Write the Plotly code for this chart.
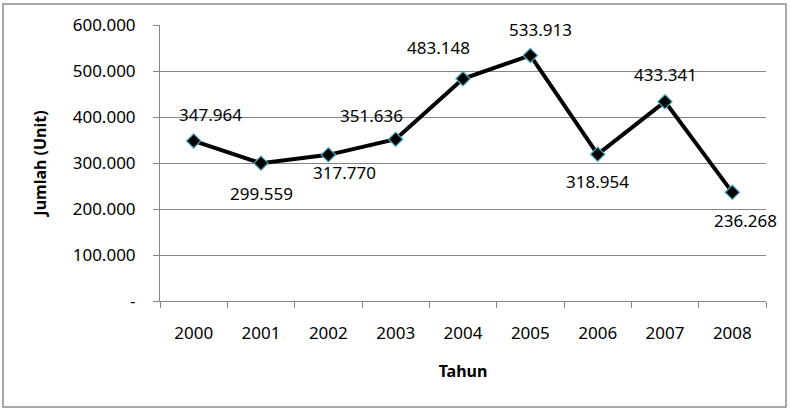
import plotly.graph_objects as go

years = ["2000", "2001", "2002", "2003", "2004", "2005", "2006", "2007", "2008"]
values = [347964, 299559, 317770, 351636, 483148, 533913, 318954, 433341, 236268]
labels = ["347.964", "299.559", "317.770", "351.636", "483.148", "533.913", "318.954", "433.341", "236.268"]
y_tickvals = [0, 100000, 200000, 300000, 400000, 500000, 600000]
y_ticktext = ["-", "100.000", "200.000", "300.000", "400.000", "500.000", "600.000"]
# label offsets in pixels (dx, dy) relative to each point
label_dx = [17, 0, 16, -24, -25, 10, 0, 0, 13]
label_dy = [-26, 30, 18, -24, -31, -26, 27, -27, 28]

FONT = "Noto Sans"
FS = 17

fig = go.Figure()
fig.add_trace(go.Scatter(
    x=years, y=values, mode="lines+markers",
    line=dict(color="black", width=4),
    marker=dict(symbol="diamond", size=11, color="black",
                line=dict(color="#4bacc6", width=1.2)),
    hoverinfo="skip", showlegend=False,
))

for i, (yv, t, dx, dy) in enumerate(zip(values, labels, label_dx, label_dy)):
    fig.add_annotation(x=i, y=yv, xref="x", yref="y", text=t, showarrow=False,
                       xshift=dx, yshift=-dy,
                       font=dict(family=FONT, size=FS, color="black"))

W, H = 790, 412
L, R, T, B = 160, 24, 25, 111
pw, ph = W - L - R, H - T - B

def px(x):
    return (x - L) / pw

def py(y):
    return (H - B - y) / ph

fig.add_shape(type="rect", xref="paper", yref="paper",
              x0=px(3), x1=px(786), y0=py(407), y1=py(4),
              line=dict(color="#8c8c8c", width=1.5), layer="below")

fig.update_layout(
    width=W, height=H,
    margin=dict(l=L, r=R, t=T, b=B),
    paper_bgcolor="white", plot_bgcolor="white",
    font=dict(family=FONT, size=FS, color="black"),
    xaxis=dict(
        type="category", range=[-0.5, 8.5],
        showline=True, linecolor="#868686", linewidth=1,
        ticks="outside", tickson="boundaries", ticklen=6, tickcolor="#868686",
        showgrid=False, tickfont=dict(family=FONT, size=FS),
        ticklabelstandoff=17,
        title=dict(text="<b>Tahun</b>", font=dict(family=FONT, size=16), standoff=22),
    ),
    yaxis=dict(
        range=[0, 600000],
        tickvals=y_tickvals, ticktext=y_ticktext,
        showline=True, linecolor="#868686", linewidth=1,
        ticks="outside", ticklen=6, tickcolor="#868686",
        showgrid=True, gridcolor="#868686", gridwidth=1,
        zeroline=False, tickfont=dict(family=FONT, size=FS),
        ticklabelstandoff=14,
        title=dict(text="<b>Jumlah (Unit)</b>", font=dict(family=FONT, size=16), standoff=22),
    ),
)

fig.write_html("out.html")
